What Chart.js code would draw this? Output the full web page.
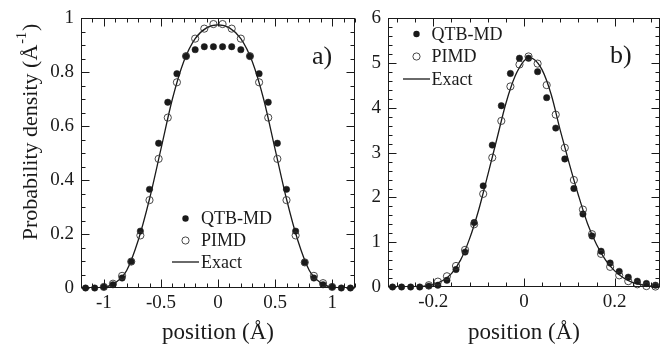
<!DOCTYPE html>
<html><head><meta charset="utf-8">
<script src="https://cdn.jsdelivr.net/npm/chart.js@4.4.1/dist/chart.umd.min.js"></script>
<style>
html,body{margin:0;padding:0;background:#fff;width:671px;height:348px;overflow:hidden}
#a{position:absolute;left:0;top:0;width:360px;height:348px}
#b{position:absolute;left:360px;top:0;width:311px;height:348px}
</style></head><body>
<div id="a"><canvas id="ca"></canvas></div>
<div id="b"><canvas id="cb"></canvas></div>
<script>
// ---------- Panel a) ----------
const posA = [-1.16,-1.08,-1.0,-0.92,-0.84,-0.76,-0.68,-0.60,-0.52,-0.44,-0.36,-0.28,-0.20,-0.12,-0.04,0.04,0.12,0.20,0.28,0.36,0.44,0.52,0.60,0.68,0.76,0.84,0.92,1.0,1.08,1.16];
const qtbA = [0,0,0.004,0.012,0.037,0.098,0.211,0.366,0.537,0.689,0.795,0.860,0.884,0.895,0.895,0.895,0.895,0.884,0.860,0.795,0.689,0.537,0.366,0.211,0.095,0.037,0.012,0.004,0,0];
const pimdPosA = [-1.0,-0.92,-0.84,-0.76,-0.68,-0.60,-0.52,-0.44,-0.36,-0.28,-0.20,-0.12,-0.04,0.04,0.12,0.20,0.28,0.36,0.44,0.52,0.60,0.68,0.76,0.84,0.92,1.0];
const pimdA = [0.004,0.016,0.045,0.098,0.195,0.326,0.479,0.632,0.763,0.860,0.925,0.962,0.979,0.979,0.962,0.925,0.860,0.763,0.632,0.479,0.326,0.195,0.095,0.045,0.018,0.004];
const exactPosA = [-1.2,-1.1,-1.0,-0.9,-0.8,-0.7,-0.6,-0.5,-0.4,-0.3,-0.2,-0.1,0,0.1,0.2,0.3,0.4,0.5,0.6,0.7,0.8,0.9,1.0,1.1,1.2];
const exactA = [0,0.0005,0.003,0.019,0.065,0.175,0.33,0.515,0.70,0.84,0.925,0.965,0.976,0.965,0.925,0.84,0.70,0.515,0.33,0.175,0.065,0.019,0.003,0.0005,0];
const xMajorA = [-1,-0.5,0,0.5,1];
const xMinorA = [-1.2,-1.1,-0.9,-0.8,-0.7,-0.6,-0.4,-0.3,-0.2,-0.1,0.1,0.2,0.3,0.4,0.6,0.7,0.8,0.9,1.1,1.2];
const yMajorA = [0,0.2,0.4,0.6,0.8,1];
const yMinorA = [0.05,0.1,0.15,0.25,0.3,0.35,0.45,0.5,0.55,0.65,0.7,0.75,0.85,0.9,0.95];

// ---------- Panel b) ----------
const posB = [-0.29,-0.27,-0.25,-0.23,-0.21,-0.19,-0.17,-0.15,-0.13,-0.11,-0.09,-0.07,-0.05,-0.03,-0.01,0.01,0.03,0.05,0.07,0.09,0.11,0.13,0.15,0.17,0.19,0.21,0.23,0.25,0.27,0.29];
const qtbB = [0,0,0,0,0.02,0.04,0.15,0.39,0.78,1.44,2.26,3.17,4.05,4.77,5.11,5.11,4.81,4.23,3.55,2.86,2.20,1.63,1.14,0.80,0.535,0.35,0.22,0.13,0.08,0.04];
const pimdPosB = [-0.21,-0.19,-0.17,-0.15,-0.13,-0.11,-0.09,-0.07,-0.05,-0.03,-0.01,0.01,0.03,0.05,0.07,0.09,0.11,0.13,0.15,0.17,0.19,0.21,0.23,0.25,0.27,0.29];
const pimdB = [0.04,0.12,0.24,0.47,0.83,1.40,2.08,2.89,3.71,4.48,4.97,5.15,4.99,4.51,3.85,3.11,2.39,1.73,1.18,0.74,0.45,0.26,0.13,0.06,0.02,0.01];
const exactPosB = [-0.30,-0.25,-0.22,-0.20,-0.18,-0.16,-0.14,-0.12,-0.10,-0.08,-0.06,-0.04,-0.02,0,0.01,0.02,0.04,0.06,0.08,0.10,0.12,0.14,0.16,0.18,0.20,0.22,0.24,0.26,0.28,0.30];
const exactB = [0,0.005,0.02,0.06,0.14,0.30,0.60,1.08,1.72,2.50,3.30,4.10,4.70,5.05,5.12,5.10,4.85,4.30,3.50,2.75,2.05,1.42,0.95,0.60,0.36,0.20,0.10,0.05,0.02,0.01];
const xMajorB = [-0.2,0,0.2];
const xMinorB = [-0.28,-0.24,-0.16,-0.12,-0.08,-0.04,0.04,0.08,0.12,0.16,0.24,0.28];
const yMajorB = [0,1,2,3,4,5,6];
const yMinorB = [0.2,0.4,0.6,0.8,1.2,1.4,1.6,1.8,2.2,2.4,2.6,2.8,3.2,3.4,3.6,3.8,4.2,4.4,4.6,4.8,5.2,5.4,5.6,5.8];

const FONT = "'Liberation Serif','Times New Roman',serif";
const INK = '#1a1a1a';
const toXY = (xs, ys) => xs.map((x, i) => ({x, y: ys[i]}));
const fmt = v => String(parseFloat(Number(v).toFixed(3)));

function makeDatasets(px, q, pp, p, ex, e) {
  return [
    {label:'Exact', data: toXY(ex, e), showLine:true, borderColor:INK, borderWidth:1.3, pointRadius:0,
     cubicInterpolationMode:'monotone', order:3},
    {label:'QTB-MD', data: toXY(px, q), showLine:false, pointRadius:3.2, pointBackgroundColor:INK,
     pointBorderColor:INK, pointBorderWidth:0.5, clip:false, order:2},
    {label:'PIMD', data: toXY(pp, p), showLine:false, pointRadius:3.6, pointBackgroundColor:'rgba(255,255,255,0)',
     pointBorderColor:'#333', pointBorderWidth:0.9, clip:false, order:1}
  ];
}

function decor(o) {
  return {
    id: 'decor',
    afterDatasetsDraw(chart) {
      const {ctx, chartArea: a, scales: {x, y}} = chart;
      ctx.save();
      ctx.strokeStyle = INK; ctx.lineWidth = 1;
      const L = Math.round(a.left) + 0.5, R = Math.round(a.right) - 0.5;
      const T = Math.round(a.top) + 0.5, B = Math.round(a.bottom) - 0.5;
      ctx.strokeRect(L, T, R - L, B - T);
      ctx.beginPath();
      const tx = (vals, len) => vals.forEach(v => {
        const p = Math.round(x.getPixelForValue(v)) + 0.5;
        ctx.moveTo(p, B); ctx.lineTo(p, B - len);
        ctx.moveTo(p, T); ctx.lineTo(p, T + len);
      });
      const ty = (vals, len) => vals.forEach(v => {
        const p = Math.round(y.getPixelForValue(v)) + 0.5;
        ctx.moveTo(L, p); ctx.lineTo(L + len, p);
        ctx.moveTo(R, p); ctx.lineTo(R - len, p);
      });
      tx(o.xMaj, 8); tx(o.xMin, 4); ty(o.yMaj, 8); ty(o.yMin, 4);
      ctx.stroke();

      // legend
      ctx.fillStyle = INK;
      ctx.font = '18px ' + FONT;
      ctx.textBaseline = 'middle'; ctx.textAlign = 'left';
      const lg = o.legend;
      ctx.beginPath(); ctx.arc(lg.mx, lg.y[0], 3.2, 0, Math.PI * 2); ctx.fill();
      ctx.fillText('QTB-MD', lg.tx, lg.y[0] + 1);
      ctx.beginPath(); ctx.arc(lg.mx, lg.y[1], 3.6, 0, Math.PI * 2);
      ctx.strokeStyle = '#333'; ctx.lineWidth = 0.9; ctx.stroke();
      ctx.fillText('PIMD', lg.tx, lg.y[1] + 1);
      ctx.beginPath(); ctx.moveTo(lg.l0, lg.y[2]); ctx.lineTo(lg.l1, lg.y[2]);
      ctx.strokeStyle = INK; ctx.lineWidth = 1.3; ctx.stroke();
      ctx.fillText('Exact', lg.tx, lg.y[2] + 1);

      // panel label
      ctx.font = '26px ' + FONT;
      ctx.fillText(o.tag, o.tagX, o.tagY);

      // x title
      ctx.font = '23px ' + FONT;
      ctx.textAlign = 'center';
      ctx.fillText('position (Å)', (a.left + a.right) / 2, 333);

      // y title
      if (o.yTitle) {
        ctx.save();
        ctx.translate(o.yTitle.x, o.yTitle.y);
        ctx.rotate(-Math.PI / 2);
        ctx.textAlign = 'left';
        const s1 = 'Probability density (Å', s2 = '-1', s3 = ')';
        ctx.font = '22px ' + FONT; const w1 = ctx.measureText(s1).width, w3 = ctx.measureText(s3).width;
        ctx.font = '14px ' + FONT; const w2 = ctx.measureText(s2).width;
        let cx = -(w1 + w2 + 2 + w3) / 2;
        ctx.font = '22px ' + FONT; ctx.fillText(s1, cx, 0); cx += w1 + 1;
        ctx.font = '14px ' + FONT; ctx.fillText(s2, cx, -9); cx += w2 + 1;
        ctx.font = '22px ' + FONT; ctx.fillText(s3, cx, 0);
        ctx.restore();
      }
      ctx.restore();
    }
  };
}

function makeChart(id, cfg) {
  return new Chart(document.getElementById(id), {
    type: 'scatter',
    data: {datasets: makeDatasets(...cfg.data)},
    options: {
      responsive: true, maintainAspectRatio: false, animation: false,
      events: [],
      layout: {padding: cfg.pad},
      plugins: {legend: {display: false}, tooltip: {enabled: false}},
      scales: {
        x: {type: 'linear', min: cfg.xr[0], max: cfg.xr[1],
            afterBuildTicks: s => { s.ticks = cfg.xMaj.map(v => ({value: v})); },
            afterFit: s => { s.height = cfg.xh; },
            grid: {display: false, drawTicks: false}, border: {display: false},
            ticks: {color: INK, font: {family: FONT, size: 19}, padding: 4, maxRotation: 0, callback: fmt}},
        y: {type: 'linear', min: cfg.yr[0], max: cfg.yr[1],
            afterBuildTicks: s => { s.ticks = cfg.yMaj.map(v => ({value: v})); },
            afterFit: s => { s.width = cfg.yw; },
            grid: {display: false, drawTicks: false}, border: {display: false},
            ticks: {color: INK, font: {family: FONT, size: 19}, padding: 7, callback: fmt}}
      }
    },
    plugins: [decor(cfg.deco)]
  });
}

makeChart('ca', {
  data: [posA, qtbA, pimdPosA, pimdA, exactPosA, exactA],
  xr: [-1.2, 1.2], yr: [0, 1], xMaj: xMajorA, yMaj: yMajorA,
  xh: 60, yw: 81, pad: {top: 15, right: 5, left: 0, bottom: 0},
  deco: {xMaj: xMajorA, xMin: xMinorA, yMaj: yMajorA, yMin: yMinorA,
         legend: {mx: 185.5, tx: 201, y: [218.5, 240.5, 262], l0: 172, l1: 199},
         tag: 'a)', tagX: 312, tagY: 57, yTitle: {x: 31, y: 132}}
});

makeChart('cb', {
  data: [posB, qtbB, pimdPosB, pimdB, exactPosB, exactB],
  xr: [-0.3, 0.3], yr: [0, 6], xMaj: xMajorB, yMaj: yMajorB,
  xh: 61, yw: 28, pad: {top: 14, right: 11, left: 0, bottom: 0},
  deco: {xMaj: xMajorB, xMin: xMinorB, yMaj: yMajorB, yMin: yMinorB,
         legend: {mx: 56.5, tx: 71.5, y: [34, 56.5, 79], l0: 43, l1: 70},
         tag: 'b)', tagX: 250, tagY: 56, yTitle: null}
});
</script>
</body></html>
